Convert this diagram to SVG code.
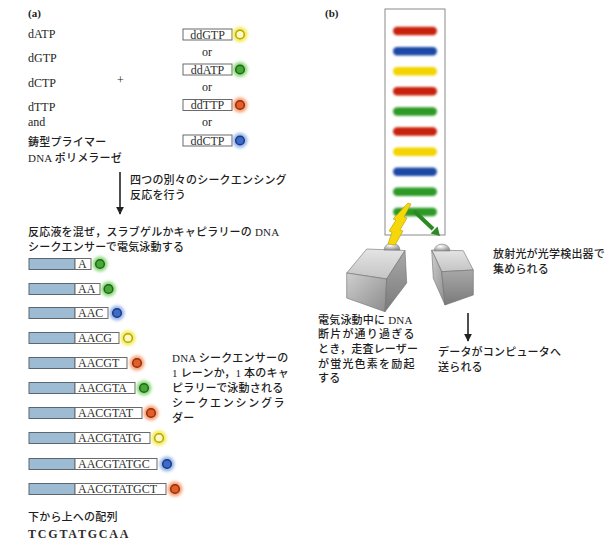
<svg xmlns="http://www.w3.org/2000/svg" width="611" height="541" viewBox="0 0 611 541">
  <defs>
    <filter id="glow" x="-50%" y="-50%" width="200%" height="200%">
      <feGaussianBlur stdDeviation="1.4"/>
    </filter>
    <filter id="soft" x="-20%" y="-60%" width="140%" height="220%">
      <feGaussianBlur stdDeviation="1"/>
    </filter>
    <linearGradient id="topFace" x1="0" y1="0" x2="0" y2="1">
      <stop offset="0" stop-color="#e4e4e4"/>
      <stop offset="1" stop-color="#c4c4c4"/>
    </linearGradient>
    <linearGradient id="endFace" x1="0" y1="0" x2="1" y2="1">
      <stop offset="0" stop-color="#cfcfcf"/>
      <stop offset="1" stop-color="#8c8c8c"/>
    </linearGradient>
    <linearGradient id="sideFace" x1="0" y1="0" x2="0" y2="1">
      <stop offset="0" stop-color="#a8a8a8"/>
      <stop offset="1" stop-color="#7a7a7a"/>
    </linearGradient>
    <radialGradient id="dome" cx="0.4" cy="0.35" r="0.7">
      <stop offset="0" stop-color="#ffffff"/>
      <stop offset="1" stop-color="#8d8d8d"/>
    </radialGradient>
    <marker id="head" viewBox="0 0 10 10" refX="9" refY="5" markerWidth="8" markerHeight="8" markerUnits="userSpaceOnUse" orient="auto">
      <path d="M0,0 L10,5 L0,10 z" fill="#222"/>
    </marker>
  </defs>
  <style>
    .lat { font-family: "Liberation Serif", "Noto Sans CJK JP", serif; font-size: 12px; fill: #1e1e1e; }
    .jp { font-family: "Liberation Serif", "Noto Sans CJK JP", serif; font-size: 11px; fill: #1e1e1e; letter-spacing: 0.2px; font-weight: 500; }
    .tag { font-family: "Liberation Serif", serif; font-size: 11px; font-weight: bold; fill: #1e1e1e; }
    .ddbox { fill: #ffffff; stroke: #6a6a6a; stroke-width: 1; }
    .ddtxt { font-family: "Liberation Serif", serif; font-size: 12px; fill: #2e2e2e; text-anchor: middle; }
    .bar { fill: #9dbbd2; stroke: #5a6670; stroke-width: 1; }
    .seqbox { fill: #ffffff; stroke: #6a6a6a; stroke-width: 1; }
    .seq { font-family: "Liberation Serif", serif; font-size: 12px; fill: #2e2e2e; }
    .halo { filter: url(#glow); opacity: 0.8; }
    .core { stroke-width: 1.5; }
    .y .halo { fill: #efe625; } .y .core { fill: #fdf8c8; stroke: #b7a600; }
    .g .halo { fill: #72cf5c; } .g .core { fill: #4aa83a; stroke: #1c6a18; }
    .r .halo { fill: #f28a52; } .r .core { fill: #df6128; stroke: #982a10; }
    .b .halo { fill: #7ea3e2; } .b .core { fill: #3d6cc6; stroke: #1a3a88; }
    .band { filter: url(#soft); }
    .link { stroke: #222; stroke-width: 1.6; fill: none; }
  </style>

  <rect width="611" height="541" fill="#ffffff"/>

  <!-- (a) reaction components -->
  <g id="panel-a-label"><text class="tag" x="28" y="17">(a)</text></g>
  <g id="reagents">
    <text class="lat" x="28" y="38">dATP</text>
    <text class="lat" x="28" y="62">dGTP</text>
    <text class="lat" x="28" y="87">dCTP</text>
    <text class="lat" x="28" y="111">dTTP</text>
    <text class="lat" x="28" y="126">and</text>
    <text class="jp" x="28" y="146">鋳型プライマー</text>
    <text class="jp" x="28" y="162">DNA ポリメラーゼ</text>
    <text class="lat" x="117" y="84">+</text>
  </g>

  <!-- labelled dideoxy terminators -->
  <g id="ddGTP">
    <rect class="ddbox" x="183" y="29" width="49" height="11"/>
    <text class="ddtxt" x="207.5" y="38.5">ddGTP</text>
    <g class="y" transform="translate(240,34.5)"><circle class="halo" r="7.5"/><circle class="core" r="4.3"/></g>
  </g>
  <text class="lat" x="207" y="56" text-anchor="middle">or</text>
  <g id="ddATP">
    <rect class="ddbox" x="183" y="64" width="49" height="11"/>
    <text class="ddtxt" x="207.5" y="73.5">ddATP</text>
    <g class="g" transform="translate(240,69.5)"><circle class="halo" r="7.5"/><circle class="core" r="4.3"/></g>
  </g>
  <text class="lat" x="207" y="91" text-anchor="middle">or</text>
  <g id="ddTTP">
    <rect class="ddbox" x="183" y="99.5" width="49" height="11"/>
    <text class="ddtxt" x="207.5" y="109">ddTTP</text>
    <g class="r" transform="translate(240,105)"><circle class="halo" r="7.5"/><circle class="core" r="4.3"/></g>
  </g>
  <text class="lat" x="207" y="126" text-anchor="middle">or</text>
  <g id="ddCTP">
    <rect class="ddbox" x="183" y="135" width="49" height="11"/>
    <text class="ddtxt" x="207.5" y="144.5">ddCTP</text>
    <g class="b" transform="translate(240,140.5)"><circle class="halo" r="7.5"/><circle class="core" r="4.3"/></g>
  </g>

  <!-- step captions -->
  <g id="step-react">
    <text class="jp" x="130" y="184">四つの別々のシークエンシング</text>
    <text class="jp" x="130" y="199">反応を行う</text>
  </g>
  <g id="step-run">
    <text class="jp" x="28" y="236">反応液を混ぜ，スラブゲルかキャピラリーの DNA</text>
    <text class="jp" x="28" y="251">シークエンサーで電気泳動する</text>
  </g>

  <!-- sequencing ladder: primer (blue) + extension + terminal dye -->
  <g id="frag-1" transform="translate(0,264)">
    <rect class="bar" x="29" y="-5.5" width="46" height="11"/><rect class="seqbox" x="75" y="-5.5" width="16" height="11"/>
    <text class="seq" x="78" y="4.3">A</text>
    <g class="g" transform="translate(100,0)"><circle class="halo" r="7.5"/><circle class="core" r="4.3"/></g>
  </g>
  <g id="frag-2" transform="translate(0,289)">
    <rect class="bar" x="29" y="-5.5" width="46" height="11"/><rect class="seqbox" x="75" y="-5.5" width="25" height="11"/>
    <text class="seq" x="78" y="4.3">AA</text>
    <g class="g" transform="translate(108.5,0)"><circle class="halo" r="7.5"/><circle class="core" r="4.3"/></g>
  </g>
  <g id="frag-3" transform="translate(0,313)">
    <rect class="bar" x="29" y="-5.5" width="46" height="11"/><rect class="seqbox" x="75" y="-5.5" width="33" height="11"/>
    <text class="seq" x="78" y="4.3">AAC</text>
    <g class="b" transform="translate(117,0)"><circle class="halo" r="7.5"/><circle class="core" r="4.3"/></g>
  </g>
  <g id="frag-4" transform="translate(0,338)">
    <rect class="bar" x="29" y="-5.5" width="46" height="11"/><rect class="seqbox" x="75" y="-5.5" width="44" height="11"/>
    <text class="seq" x="78" y="4.3">AACG</text>
    <g class="y" transform="translate(128,0)"><circle class="halo" r="7.5"/><circle class="core" r="4.3"/></g>
  </g>
  <g id="frag-5" transform="translate(0,363)">
    <rect class="bar" x="29" y="-5.5" width="46" height="11"/><rect class="seqbox" x="75" y="-5.5" width="52" height="11"/>
    <text class="seq" x="78" y="4.3">AACGT</text>
    <g class="r" transform="translate(137,0)"><circle class="halo" r="7.5"/><circle class="core" r="4.3"/></g>
  </g>
  <g id="frag-6" transform="translate(0,388)">
    <rect class="bar" x="29" y="-5.5" width="46" height="11"/><rect class="seqbox" x="75" y="-5.5" width="60" height="11"/>
    <text class="seq" x="78" y="4.3">AACGTA</text>
    <g class="g" transform="translate(144,0)"><circle class="halo" r="7.5"/><circle class="core" r="4.3"/></g>
  </g>
  <g id="frag-7" transform="translate(0,413)">
    <rect class="bar" x="29" y="-5.5" width="46" height="11"/><rect class="seqbox" x="75" y="-5.5" width="67" height="11"/>
    <text class="seq" x="78" y="4.3">AACGTAT</text>
    <g class="r" transform="translate(151,0)"><circle class="halo" r="7.5"/><circle class="core" r="4.3"/></g>
  </g>
  <g id="frag-8" transform="translate(0,438)">
    <rect class="bar" x="29" y="-5.5" width="46" height="11"/><rect class="seqbox" x="75" y="-5.5" width="75" height="11"/>
    <text class="seq" x="78" y="4.3">AACGTATG</text>
    <g class="y" transform="translate(159,0)"><circle class="halo" r="7.5"/><circle class="core" r="4.3"/></g>
  </g>
  <g id="frag-9" transform="translate(0,464)">
    <rect class="bar" x="29" y="-5.5" width="46" height="11"/><rect class="seqbox" x="75" y="-5.5" width="82" height="11"/>
    <text class="seq" x="78" y="4.3">AACGTATGC</text>
    <g class="b" transform="translate(167,0)"><circle class="halo" r="7.5"/><circle class="core" r="4.3"/></g>
  </g>
  <g id="frag-10" transform="translate(0,489)">
    <rect class="bar" x="29" y="-5.5" width="46" height="11"/><rect class="seqbox" x="75" y="-5.5" width="91" height="11"/>
    <text class="seq" x="78" y="4.3">AACGTATGCT</text>
    <g class="r" transform="translate(175,0)"><circle class="halo" r="7.5"/><circle class="core" r="4.3"/></g>
  </g>

  <g id="ladder-note">
    <text class="jp" x="172" y="362">DNA シークエンサーの</text>
    <text class="jp" x="172" y="377">1 レーンか，1 本のキャ</text>
    <text class="jp" x="172" y="392">ピラリーで泳動される</text>
    <text class="jp" x="172" y="407" style="letter-spacing:1.7px">シークエンシングラ</text>
    <text class="jp" x="172" y="422">ダー</text>
  </g>
  <g id="readout">
    <text class="jp" x="28" y="521">下から上への配列</text>
    <text class="seq" x="28" y="538" style="font-weight:bold;letter-spacing:1.8px">TCGTATGCAA</text>
  </g>

  <!-- (b) capillary with dye bands -->
  <g id="panel-b-label"><text class="tag" x="325" y="17">(b)</text></g>
  <g id="capillary">
    <rect x="385" y="9" width="60" height="226" fill="#ffffff" stroke="#8a8a8a" stroke-width="1"/>
    <rect class="band" x="393" y="26.8" width="44" height="8.5" rx="4.2" fill="#c82008"/>
    <rect class="band" x="393" y="46.9" width="44" height="8.5" rx="4.2" fill="#1f4aa6"/>
    <rect class="band" x="393" y="67" width="44" height="8.5" rx="4.2" fill="#f3d400"/>
    <rect class="band" x="393" y="87.1" width="44" height="8.5" rx="4.2" fill="#c82008"/>
    <rect class="band" x="393" y="107.2" width="44" height="8.5" rx="4.2" fill="#2f9a28"/>
    <rect class="band" x="393" y="127.3" width="44" height="8.5" rx="4.2" fill="#c82008"/>
    <rect class="band" x="393" y="147.4" width="44" height="8.5" rx="4.2" fill="#f3d400"/>
    <rect class="band" x="393" y="167.5" width="44" height="8.5" rx="4.2" fill="#1f4aa6"/>
    <rect class="band" x="393" y="187.6" width="44" height="8.5" rx="4.2" fill="#2f9a28"/>
    <rect class="band" x="393" y="207.7" width="44" height="8.5" rx="4.2" fill="#2f9a28"/>
  </g>

  <!-- scanning laser -->
  <g id="laser">
    <polygon points="366.7,249 405,250.5 386.7,279 346.7,273" fill="url(#topFace)" stroke="#6e6e6e" stroke-width="0.6"/>
    <polygon points="346.7,273 386.7,279 385,311.7 346.7,298" fill="url(#endFace)" stroke="#6e6e6e" stroke-width="0.6"/>
    <polygon points="386.7,279 405,250.5 406.7,283 385,311.7" fill="url(#sideFace)" stroke="#6e6e6e" stroke-width="0.6"/>
    <path d="M384,250 A8,7 0 0 1 400,250 Z" fill="url(#dome)" stroke="#777" stroke-width="0.5"/>
  </g>

  <!-- optical detector -->
  <g id="detector">
    <polygon points="431.7,250 463.3,250.7 473.3,270 441.7,271.7" fill="url(#topFace)" stroke="#6e6e6e" stroke-width="0.6"/>
    <polygon points="431.7,250 441.7,271.7 445,305 433.3,278.3" fill="url(#endFace)" stroke="#6e6e6e" stroke-width="0.6"/>
    <polygon points="441.7,271.7 473.3,270 473.3,295 445,305" fill="url(#sideFace)" stroke="#6e6e6e" stroke-width="0.6"/>
    <path d="M434,251 A8,7 0 0 1 450,251 Z" fill="url(#dome)" stroke="#777" stroke-width="0.5"/>
  </g>

  <!-- excitation beam and emitted light -->
  <g id="beams">
    <polygon points="388,244 392,232 389,231 396,220 393,219 408,203 411,204 404,217 407,218 400,230 403,231 395,245" fill="#f6d80a" stroke="#b79a00" stroke-width="0.6"/>
    <path d="M414,211 L433,229" stroke="#2b8a22" stroke-width="4" fill="none"/>
    <polygon points="440,236 430.6,233.5 437.5,226.5" fill="#2b8a22"/>
  </g>

  <g id="laser-note">
    <text class="jp" x="318" y="324">電気泳動中に DNA</text>
    <text class="jp" x="318" y="338" style="letter-spacing:1.2px">断片が通り過ぎる</text>
    <text class="jp" x="318" y="353">とき，走査レーザー</text>
    <text class="jp" x="318" y="368" style="letter-spacing:1.2px">が蛍光色素を励起</text>
    <text class="jp" x="318" y="382">する</text>
  </g>
  <g id="detector-note">
    <text class="jp" x="493" y="258">放射光が光学検出器で</text>
    <text class="jp" x="493" y="273">集められる</text>
  </g>
  <g id="computer-note">
    <text class="jp" x="438" y="356">データがコンピュータへ</text>
    <text class="jp" x="438" y="371">送られる</text>
  </g>

  <!-- flow arrows -->
  <g id="connectors">
    <line class="link" x1="120" y1="172" x2="120" y2="214" marker-end="url(#head)"/>
    <line class="link" x1="468" y1="313" x2="468" y2="341" marker-end="url(#head)"/>
  </g>
</svg>
